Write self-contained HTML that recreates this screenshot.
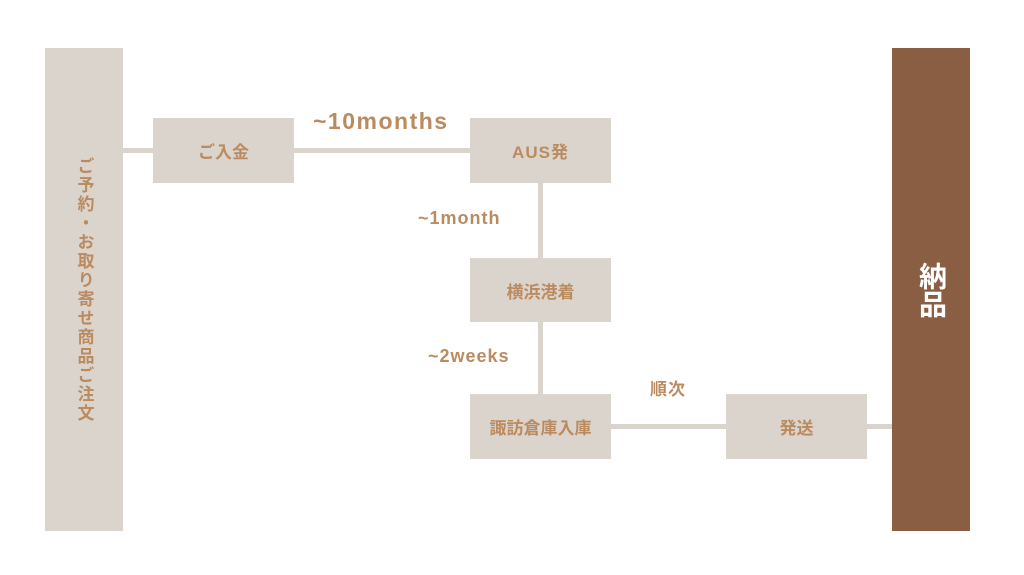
<!DOCTYPE html>
<html><head><meta charset="utf-8"><style>
body{margin:0;width:1024px;height:575px;background:#fff;position:relative;overflow:hidden;font-family:"Liberation Sans","Noto Sans CJK JP",sans-serif;font-weight:bold;color:#bb8b60}
div{position:absolute;box-sizing:border-box}
.b{background:#dbd4cd;display:flex;align-items:center;justify-content:center;font-size:17px}
.l{background:#dbd4cd}
.t{font-size:17px;letter-spacing:1px}
</style></head><body>
<div class="l" style="left:120px;top:148px;width:360px;height:5px"></div>
<div class="l" style="left:538px;top:180px;width:5px;height:220px"></div>
<div class="l" style="left:608px;top:424px;width:290px;height:5px"></div>
<div class="b" style="left:45px;top:48px;width:78px;height:483px"><span style="writing-mode:vertical-rl;font-size:17px;letter-spacing:2px">ご予約・お取り寄せ商品ご注文</span></div>
<div class="b" style="left:892px;top:48px;width:78px;height:483px;background:#8a5e43;color:#fff;font-size:28px"><span style="writing-mode:vertical-rl">納品</span></div>
<div class="b" style="left:153px;top:118px;width:141px;height:65px">ご入金</div>
<div class="b" style="left:470px;top:118px;width:141px;height:65px;letter-spacing:1px">AUS発</div>
<div class="b" style="left:470px;top:258px;width:141px;height:64px">横浜港着</div>
<div class="b" style="left:470px;top:394px;width:141px;height:65px">諏訪倉庫入庫</div>
<div class="b" style="left:726px;top:394px;width:141px;height:65px">発送</div>
<div class="t" style="left:313px;top:108px;font-size:23px;letter-spacing:1.5px">~10months</div>
<div class="t" style="left:418px;top:208px;font-size:18px">~1month</div>
<div class="t" style="left:428px;top:346px;font-size:18px">~2weeks</div>
<div class="t" style="left:650px;top:375px">順次</div>
</body></html>
